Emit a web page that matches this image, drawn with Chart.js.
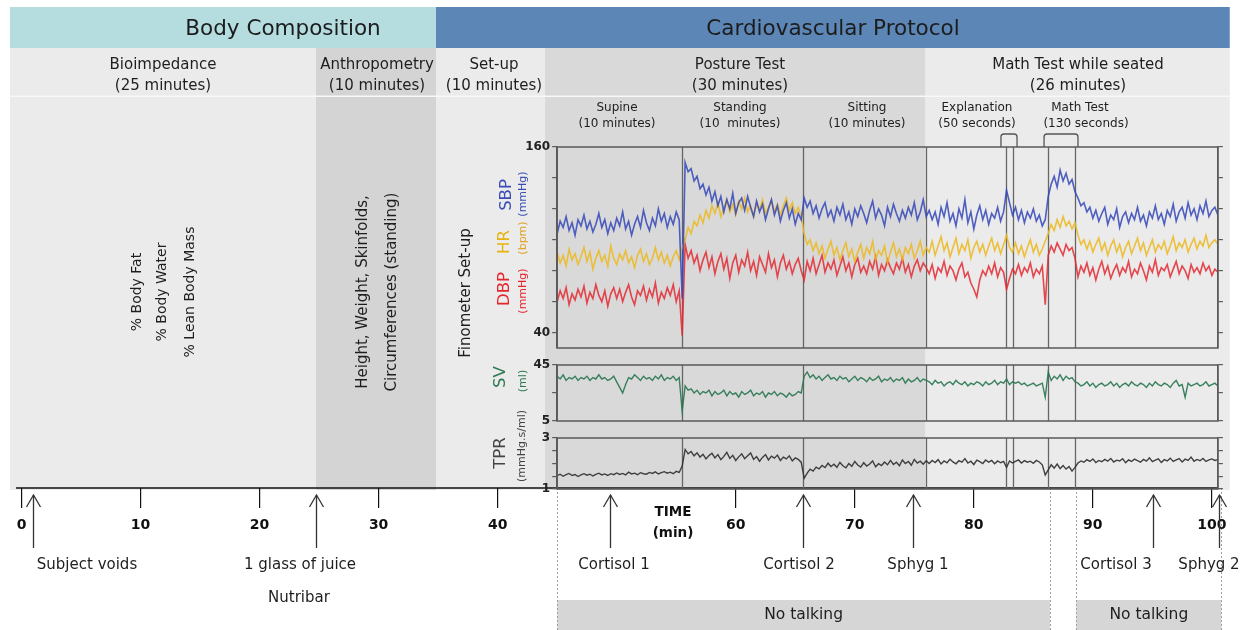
<!DOCTYPE html>
<html><head><meta charset="utf-8">
<script src="https://cdn.jsdelivr.net/npm/chart.js@4.4.1/dist/chart.umd.min.js"></script>
<style>
html,body{margin:0;padding:0;background:#fff;}
#wrap{position:relative;width:1250px;height:630px;overflow:hidden;}
#wrap canvas{position:absolute;left:0;top:0;}
</style></head><body>
<div id="wrap">
<canvas id="base" width="1250" height="630"></canvas>
<canvas id="bp" width="1250" height="630"></canvas>
<canvas id="sv" width="1250" height="630"></canvas>
<canvas id="tpr" width="1250" height="630"></canvas>
</div>
<script>
// ---------------- DATA ----------------
const sampleStart = 45;    // minute of first Finometer sample
const sampleStep = 0.25;   // minutes between samples

const sbp = [104,112,108,115,106,111,103,113,109,116,
 107,112,105,110,117,108,113,104,111,106,
 114,109,118,107,112,103,110,115,108,119,
 111,106,114,109,120,112,117,108,115,110,118,113,
 62,
 150,144,146,138,141,133,136,129,134,125,
 131,122,128,118,126,120,130,117,124,127,
 119,128,121,115,125,118,123,113,120,126,
 116,122,112,119,124,114,120,110,117,113,
 127,121,125,117,122,114,120,124,115,119,
 112,121,116,123,113,118,110,120,115,122,
 117,111,119,125,114,120,116,109,121,115,
 123,117,112,119,114,121,116,124,113,118,126,115,
 119,113,118,110,121,115,124,112,117,109,
 120,114,126,111,118,107,116,122,113,119,
 110,117,114,121,112,118,
 132,124,116,
 121,113,119,111,118,114,120,112,116,109,113,
 128,136,141,134,145,138,143,136,139,131,
 127,122,124,118,121,114,119,112,117,121,
 110,116,113,120,108,115,118,111,117,113,
 121,112,116,109,118,114,122,113,117,110,
 119,115,123,112,118,121,114,124,116,120,
 113,122,117,125,115,119,121,116];

const hr = [92,85,90,83,94,87,91,84,89,95,
 86,92,81,88,93,86,90,83,96,88,
 84,91,87,93,85,89,82,90,94,86,
 91,84,88,95,87,92,85,90,83,89,93,87,
 95,
 100,108,104,112,109,116,111,119,114,122,
 117,124,115,121,126,118,123,116,125,120,
 127,118,122,115,124,119,126,117,121,125,
 118,123,116,122,127,119,124,117,121,115,
 104,97,100,93,98,91,96,88,94,99,
 90,95,87,93,98,89,94,86,92,97,
 88,95,91,99,87,93,90,96,85,92,
 98,89,94,87,95,91,97,88,93,99,90,95,
 92,99,90,96,102,93,98,89,95,101,
 91,97,93,100,88,95,99,92,97,90,
 96,101,93,98,91,97,
 103,95,92,
 98,91,96,89,95,100,92,97,90,94,99,
 104,110,106,113,108,115,109,112,107,111,
 103,97,100,94,99,92,97,101,93,98,
 90,96,100,92,97,89,95,99,91,96,
 101,93,98,90,95,100,92,97,94,99,
 91,96,102,93,98,95,100,92,97,101,
 94,99,96,103,95,98,100,97];

const dbp = [60,67,62,69,58,65,61,68,63,70,
 59,66,62,71,64,60,67,57,65,69,
 62,68,60,66,71,63,58,67,64,70,
 61,68,63,72,59,66,62,69,64,71,60,67,
 38,
 97,88,93,85,90,80,87,92,82,89,
 78,86,91,81,88,75,85,90,79,87,
 83,92,80,86,77,89,84,79,91,82,
 87,76,85,90,81,86,78,84,88,80,
 74,86,80,88,78,84,90,79,85,81,
 87,77,83,89,80,85,76,84,88,79,
 83,78,86,81,89,77,84,80,87,82,
 78,85,81,88,79,84,76,83,87,80,85,82,
 78,84,75,82,79,86,77,83,80,74,
 81,85,76,79,72,68,63,74,80,77,
 83,78,85,76,82,79,
 68,75,81,
 78,84,77,82,79,85,76,81,78,83,58,
 90,96,92,98,94,90,97,93,95,88,
 76,83,79,85,77,82,74,81,86,78,
 83,75,80,84,77,82,79,86,76,81,
 78,85,80,74,83,79,87,77,82,80,
 84,76,81,86,78,83,80,75,84,79,
 82,78,85,80,83,77,81,79];

const sv = [37,35,38,34,36,35,37,34,36,35,
 37,34,36,35,38,35,36,34,35,37,
 33,29,25,31,36,35,38,36,34,37,
 35,36,34,37,35,38,34,36,35,37,34,36,
 12,
 30,27,28,25,27,24,26,25,27,23,
 26,24,25,27,23,26,24,25,22,26,
 24,25,27,23,25,24,26,22,25,24,
 26,23,25,24,22,25,23,24,26,25,
 37,40,36,38,35,37,34,36,38,35,
 36,34,37,35,36,33,35,37,34,36,
 35,33,36,34,35,37,33,35,34,36,
 33,35,34,36,32,35,33,34,36,33,35,34,
 33,31,34,32,33,30,32,33,31,34,
 32,31,33,30,32,31,33,32,30,33,
 31,32,34,31,33,32,
 35,31,33,
 32,33,31,32,30,31,32,30,31,32,22,
 40,34,37,35,38,34,37,35,36,33,
 32,30,31,33,30,32,29,31,32,30,
 31,33,30,32,29,31,32,30,33,31,
 30,32,31,29,32,30,33,31,30,32,
 31,29,32,34,30,31,22,32,30,31,
 32,30,31,33,30,31,32,30];

const tpr = [1.52,1.58,1.50,1.56,1.61,1.53,1.57,1.49,1.55,1.60,
 1.54,1.58,1.51,1.57,1.62,1.55,1.59,1.53,1.60,1.56,
 1.63,1.57,1.61,1.55,1.66,1.59,1.62,1.56,1.64,1.60,
 1.58,1.65,1.61,1.67,1.59,1.64,1.68,1.62,1.66,1.60,1.69,1.65,
 1.90,
 2.55,2.38,2.47,2.30,2.42,2.25,2.36,2.18,2.31,2.40,
 2.22,2.35,2.15,2.28,2.44,2.20,2.32,2.12,2.26,2.38,
 2.19,2.30,2.41,2.16,2.27,2.09,2.24,2.35,2.14,2.29,
 2.21,2.33,2.12,2.25,2.18,2.30,2.10,2.22,2.16,2.05,
 1.42,1.62,1.78,1.70,1.86,1.79,1.92,1.84,2.01,1.88,
 1.97,1.85,2.04,1.91,1.83,2.00,1.89,2.08,1.94,1.86,
 2.03,1.90,1.98,2.10,1.87,1.99,1.92,2.06,1.95,2.12,
 1.96,2.05,1.91,2.14,2.00,2.08,1.93,2.16,2.02,2.09,1.97,2.11,
 2.00,2.12,2.04,2.15,1.98,2.10,2.03,2.17,2.06,1.99,
 2.11,2.05,2.19,2.02,2.09,1.96,2.13,2.07,2.00,2.14,
 2.05,2.12,1.99,2.10,2.03,2.08,
 1.85,2.10,2.02,
 2.08,2.14,2.02,2.11,2.05,2.09,2.01,2.12,2.06,1.95,1.55,
 1.75,1.95,1.82,1.98,1.80,1.92,1.78,1.88,1.70,1.85,
 2.02,2.10,2.05,2.15,2.08,2.18,2.04,2.12,2.07,2.16,
 2.09,2.20,2.06,2.13,2.10,2.19,2.03,2.14,2.08,2.17,
 2.11,2.05,2.16,2.09,2.22,2.07,2.13,2.18,2.04,2.15,
 2.10,2.21,2.08,2.14,2.19,2.06,2.17,2.12,2.25,2.09,
 2.16,2.11,2.20,2.08,2.14,2.18,2.12,2.15];

const timeTicks = [0,10,20,30,40,60,70,80,90,100];
const bpTicks = [40,60,80,100,120,140,160];
const bpLabelled = [40,160];
const svTicks = [5,25,45];
const svLabelled = [5,45];
const tprTicks = [1,1.5,2,2.5,3];
const tprLabelled = [1,3];

const sections = ['Body Composition','Cardiovascular Protocol'];
const sectionEdges = [-0.97, 34.82, 101.5];
const columnEdges = [-0.97, 24.74, 34.82, 43.98, 75.95, 101.5];
const columnTitles = [['Bioimpedance','(25 minutes)'],['Anthropometry','(10 minutes)'],['Set-up','(10 minutes)'],['Posture Test','(30 minutes)'],['Math Test while seated','(26 minutes)']];
const subPhaseTitles = [['Supine','(10 minutes)'],['Standing','(10  minutes)'],['Sitting','(10 minutes)'],['Explanation','(50 seconds)'],['Math Test','(130 seconds)']];
const panelStart = 45, panelEnd = 100.5;
const panelDividers = [55.5, 65.65, 75.95, 82.7, 83.3, 86.2, 88.5];
const bracketSpans = [[82.28, 83.63],[85.9, 88.75]];
const eventTimes = [1.0, 24.75, 49.45, 65.65, 74.9, 95.05, 100.6];
const eventLabels = ['Subject voids','1 glass of juice','Cortisol 1','Cortisol 2','Sphyg 1','Cortisol 3','Sphyg 2'];
const noTalkSpans = [[45, 86.4],[88.6, 100.8]];
const bodyCompItems = ['% Body Fat','% Body Water','% Lean Body Mass'];
const anthroItems = ['Height, Weight, Skinfolds,','Circumferences (standing)'];

// ---------------- LAYOUT / STYLE ----------------
const FONT = "'DejaVu Sans', 'Noto Sans', sans-serif";
Chart.defaults.font.family = FONT;
const L = {
  headerTop: 7, headerBottom: 48, rowLine: 95.5, colBottom: 490, axisY: 488,
  sectionColors: ['#b5dde0', '#5c86b6'], sectionTextX: [283, 833], sectionTextY: 29,
  columnColors: ['#ebebeb', '#d4d4d4', '#ebebeb', '#d9d9d9', '#ebebeb'],
  columnTextX: [163, 377, 494, 740, 1078], columnTextY: [65, 86],
  subTextX: [617, 740, 867, 977, 1080], subText2X: [617, 740, 867, 977, 1086], subTextY: [108, 124],
  bodyCompX: [137, 162, 190], anthroX: [363, 392], vertY: 292,
  eventLabelX: [87, 300, 614, 799, 918, 1116, 1209], eventLabelY: 565,
  panelLabels: [
    {s:'SBP', x:507, y:195, size:16.5, color:'#3a4db5'},
    {s:'(mmHg)', x:523, y:194, size:11, color:'#3a4db5'},
    {s:'HR', x:505, y:242, size:16.5, color:'#e8b30f'},
    {s:'(bpm)', x:523, y:238, size:11, color:'#e0a020'},
    {s:'DBP', x:505, y:289, size:16.5, color:'#e5262d'},
    {s:'(mmHg)', x:523, y:291, size:11, color:'#e5262d'},
    {s:'SV', x:501, y:377, size:16.5, color:'#2d7a50'},
    {s:'(ml)', x:523, y:381, size:11, color:'#2d7a50'},
    {s:'TPR', x:501, y:453, size:16.5, color:'#444'},
    {s:'(mmHg.s/ml)', x:522, y:446, size:11, color:'#444'}
  ]
};

function text(ctx, s, x, y, size, o = {}) {
  ctx.save();
  ctx.font = `${o.weight || 'normal'} ${size}px ${FONT}`;
  ctx.fillStyle = o.color || '#1e1e1e';
  ctx.textAlign = o.align || 'center';
  ctx.textBaseline = 'middle';
  ctx.translate(x, y);
  if (o.rot) ctx.rotate(o.rot);
  ctx.fillText(s, 0, 0);
  ctx.restore();
}
const ROT = -Math.PI / 2;

const basePlugin = {
  id: 'protocolBackground',
  beforeDraw(chart) {
    const ctx = chart.ctx, xs = chart.scales.x, X = t => xs.getPixelForValue(t);
    ctx.save();
    ctx.fillStyle = '#ffffff'; ctx.fillRect(0, 0, chart.width, chart.height);
    for (let i = 0; i < sections.length; i++) {
      ctx.fillStyle = L.sectionColors[i];
      ctx.fillRect(X(sectionEdges[i]), L.headerTop, X(sectionEdges[i + 1]) - X(sectionEdges[i]), L.headerBottom - L.headerTop);
    }
    for (let i = 0; i < columnTitles.length; i++) {
      ctx.fillStyle = L.columnColors[i];
      ctx.fillRect(X(columnEdges[i]), L.headerBottom, X(columnEdges[i + 1]) - X(columnEdges[i]), L.colBottom - L.headerBottom);
    }
    ctx.fillStyle = '#f8f8f8';
    ctx.fillRect(X(columnEdges[0]), L.rowLine, X(columnEdges[columnEdges.length - 1]) - X(columnEdges[0]), 1.5);
    ctx.fillStyle = '#d6d6d6';
    noTalkSpans.forEach(([a, b]) => ctx.fillRect(X(a), 600, X(b) - X(a), 30));
    ctx.strokeStyle = '#a0a0a0'; ctx.lineWidth = 1; ctx.setLineDash([2, 2]);
    noTalkSpans.forEach(([a, b]) => {
      [a, b].forEach(t => { const px = Math.round(X(t)) + 0.5; ctx.beginPath(); ctx.moveTo(px, L.axisY); ctx.lineTo(px, 630); ctx.stroke(); });
    });
    ctx.setLineDash([]);
    ctx.restore();
  },
  afterDraw(chart) {
    const ctx = chart.ctx, xs = chart.scales.x, X = t => xs.getPixelForValue(t);
    ctx.save();
    sections.forEach((s, i) => text(ctx, s, L.sectionTextX[i], L.sectionTextY, 21.5, {color: '#1c1c1c'}));
    columnTitles.forEach((c, i) => { text(ctx, c[0], L.columnTextX[i], L.columnTextY[0], 15); text(ctx, c[1], L.columnTextX[i], L.columnTextY[1], 15); });
    subPhaseTitles.forEach((c, i) => { text(ctx, c[0], L.subTextX[i], L.subTextY[0], 12); text(ctx, c[1], L.subText2X[i], L.subTextY[1], 12); });
    bodyCompItems.forEach((s, i) => text(ctx, s, L.bodyCompX[i], L.vertY, 14, {rot: ROT}));
    anthroItems.forEach((s, i) => text(ctx, s, L.anthroX[i], L.vertY, 15, {rot: ROT}));
    text(ctx, 'Finometer Set-up', 466, 293, 15, {rot: ROT});
    L.panelLabels.forEach(p => text(ctx, p.s, p.x, p.y, p.size, {rot: ROT, color: p.color}));
    // brackets over the explanation / math-test periods
    ctx.strokeStyle = '#555'; ctx.lineWidth = 1.3;
    bracketSpans.forEach(([a, b]) => {
      const x1 = X(a), x2 = X(b), top = 134, bot = 147, r = 3;
      ctx.beginPath(); ctx.moveTo(x1, bot); ctx.lineTo(x1, top + r); ctx.arcTo(x1, top, x1 + r, top, r);
      ctx.lineTo(x2 - r, top); ctx.arcTo(x2, top, x2, top + r, r); ctx.lineTo(x2, bot); ctx.stroke();
    });
    // time axis line
    ctx.strokeStyle = '#111'; ctx.lineWidth = 1.6;
    ctx.beginPath(); ctx.moveTo(X(-0.46), L.axisY); ctx.lineTo(X(panelEnd), L.axisY); ctx.stroke();
    text(ctx, 'TIME', 673, 512, 13.5, {weight: 'bold', color: '#111'});
    text(ctx, '(min)', 673, 533, 13.5, {weight: 'bold', color: '#111'});
    // event arrows
    ctx.strokeStyle = '#333'; ctx.lineWidth = 1.3;
    eventTimes.forEach((t, i) => {
      const px = Math.round(X(t)) + 0.5;
      ctx.beginPath(); ctx.moveTo(px, 495); ctx.lineTo(px, 548); ctx.stroke();
      ctx.beginPath(); ctx.moveTo(px - 7, 507); ctx.lineTo(px, 495); ctx.lineTo(px + 7, 507); ctx.stroke();
      text(ctx, eventLabels[i], L.eventLabelX[i], L.eventLabelY, 15);
    });
    text(ctx, 'Nutribar', 299, 598, 15);
    noTalkSpans.forEach(([a, b]) => text(ctx, 'No talking', (X(a) + X(b)) / 2, 615, 15.5));
    ctx.restore();
  }
};

const base = new Chart(document.getElementById('base'), {
  type: 'line',
  data: {datasets: []},
  options: {
    responsive: false, animation: false, devicePixelRatio: 1,
    layout: {padding: {left: 21.5, right: 38.1, top: 0, bottom: 0}},
    plugins: {legend: {display: false}, tooltip: {enabled: false}},
    scales: {
      x: {
        type: 'linear', min: 0, max: 100, position: 'bottom',
        afterBuildTicks: s => { s.ticks = timeTicks.map(v => ({value: v})); },
        afterFit: s => { s.height = 630 - L.axisY; },
        grid: {drawOnChartArea: false, drawTicks: true, tickLength: 20, color: '#111', lineWidth: 1.2},
        border: {display: false},
        ticks: {padding: 9, color: '#111', font: {size: 14, weight: 'bold'}, autoSkip: false, maxRotation: 0}
      },
      y: {display: false, min: 0, max: 1}
    }
  },
  plugins: [basePlugin]
});

const panelPlugin = {
  id: 'panelFrame',
  beforeDatasetsDraw(chart) {
    const {ctx, chartArea: a, scales: {x}} = chart;
    ctx.save(); ctx.strokeStyle = '#666'; ctx.lineWidth = 1.3;
    panelDividers.forEach(t => { const px = Math.round(x.getPixelForValue(t)) + 0.5; ctx.beginPath(); ctx.moveTo(px, a.top); ctx.lineTo(px, a.bottom); ctx.stroke(); });
    ctx.restore();
  },
  afterDatasetsDraw(chart) {
    const {ctx, chartArea: a} = chart;
    ctx.save(); ctx.strokeStyle = '#5a5a5a'; ctx.lineWidth = 1.5;
    ctx.strokeRect(a.left, a.top, a.right - a.left, a.bottom - a.top);
    ctx.restore();
  }
};

function series(values, color, width) {
  return {
    data: values.map((v, i) => ({x: sampleStart + i * sampleStep, y: v})),
    borderColor: color, borderWidth: width, pointRadius: 0, tension: 0, fill: false
  };
}

function makePanel(id, datasets, top, bottom, min, max, ticks, labelled) {
  const xs = base.scales.x;
  const left = xs.getPixelForValue(panelStart), right = xs.getPixelForValue(panelEnd);
  const YW = 44, RW = 5;
  const tickSetter = s => { s.ticks = ticks.map(v => ({value: v})); };
  const gridOpt = {drawOnChartArea: false, drawTicks: true, tickLength: 5, color: '#5a5a5a', lineWidth: 1.2};
  return new Chart(document.getElementById(id), {
    type: 'line',
    data: {datasets},
    options: {
      responsive: false, animation: false, devicePixelRatio: 1,
      layout: {padding: {left: left - YW, right: 1250 - right - RW, top: top, bottom: 630 - bottom}},
      plugins: {legend: {display: false}, tooltip: {enabled: false}},
      scales: {
        x: {type: 'linear', min: panelStart, max: panelEnd, display: false},
        y: {
          type: 'linear', position: 'left', min, max,
          afterBuildTicks: tickSetter, afterFit: s => { s.width = YW; },
          grid: gridOpt, border: {display: true, color: '#5a5a5a', width: 1.5},
          ticks: {padding: 2, color: '#222', autoSkip: false, font: {size: 12, weight: 'bold'},
                  callback: v => labelled.includes(v) ? String(v) : ''}
        },
        y2: {
          type: 'linear', position: 'right', min, max,
          afterBuildTicks: tickSetter, afterFit: s => { s.width = RW; },
          grid: gridOpt, border: {display: true, color: '#5a5a5a', width: 1.5},
          ticks: {display: false}
        }
      }
    },
    plugins: [panelPlugin]
  });
}

makePanel('bp', [
  series(sbp, 'rgba(50,70,185,0.85)', 1.6),
  series(hr, 'rgba(236,184,28,0.85)', 1.6),
  series(dbp, 'rgba(228,40,48,0.85)', 1.6)
], 147, 348, 30, 160, bpTicks, bpLabelled);
makePanel('sv', [series(sv, 'rgba(38,118,78,0.9)', 1.4)], 365, 421, 5, 45, svTicks, svLabelled);
makePanel('tpr', [series(tpr, 'rgba(45,45,45,0.9)', 1.4)], 438, 489, 1, 3, tprTicks, tprLabelled);
</script>
</body></html>
